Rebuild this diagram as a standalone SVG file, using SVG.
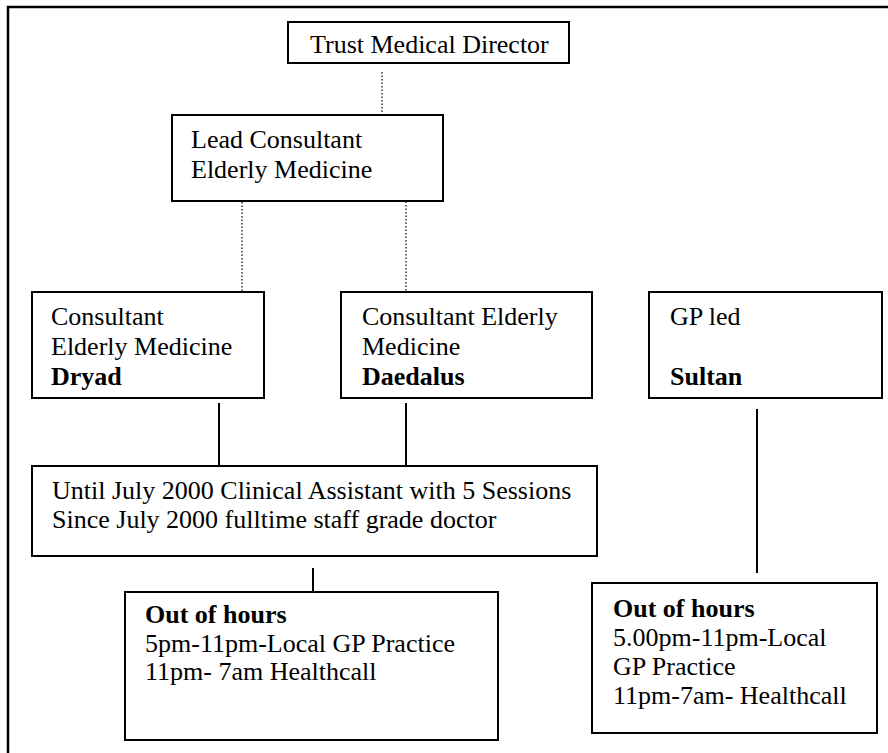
<svg xmlns="http://www.w3.org/2000/svg" width="888" height="753" viewBox="0 0 888 753">
<style>
.box{fill:#fff;stroke:#000;stroke-width:2}
.t{font-family:'Liberation Serif','Times New Roman','DejaVu Serif',serif;font-size:26px;fill:#000}
.b{font-weight:bold}
.solid{stroke:#000;stroke-width:2;fill:none}
.dot{stroke:#000;stroke-width:1.2;stroke-dasharray:1.5 2;fill:none}
</style>
<rect width="888" height="753" fill="#fff"/>
<path d="M8,753 V7 H888" fill="none" stroke="#000" stroke-width="2.5"/>
<g id="connectors">
<line class="dot" x1="382" y1="72" x2="382" y2="114"/>
<line class="dot" x1="242" y1="202" x2="242" y2="291"/>
<line class="dot" x1="406" y1="198" x2="406" y2="291"/>
<line class="solid" x1="219" y1="403" x2="219" y2="473"/>
<line class="solid" x1="406" y1="403" x2="406" y2="473"/>
<line class="solid" x1="757" y1="409" x2="757" y2="573"/>
<line class="solid" x1="313" y1="568" x2="313" y2="592"/>
</g>
<g id="trust">
<rect class="box" x="288" y="22" width="281" height="41"/>
<text class="t" x="310" y="53">Trust Medical Director</text>
</g>
<g id="lead">
<rect class="box" x="172" y="115" width="271" height="86"/>
<text class="t" x="191" y="148">Lead Consultant</text>
<text class="t" x="191" y="178">Elderly Medicine</text>
</g>
<g id="dryad">
<rect class="box" x="32" y="292" width="232" height="106"/>
<text class="t" x="51" y="325">Consultant</text>
<text class="t" x="51" y="355">Elderly Medicine</text>
<text class="t b" x="51" y="385">Dryad</text>
</g>
<g id="daedalus">
<rect class="box" x="341" y="292" width="251" height="106"/>
<text class="t" x="362" y="325">Consultant Elderly</text>
<text class="t" x="362" y="355">Medicine</text>
<text class="t b" x="362" y="385">Daedalus</text>
</g>
<g id="sultan">
<rect class="box" x="649" y="292" width="233" height="106"/>
<text class="t" x="670" y="325">GP led</text>
<text class="t b" x="670" y="385">Sultan</text>
</g>
<g id="assistant">
<rect class="box" x="32" y="466" width="565" height="90"/>
<text class="t" x="52" y="499">Until July 2000 Clinical Assistant with 5 Sessions</text>
<text class="t" x="52" y="528">Since July 2000 fulltime staff grade doctor</text>
</g>
<g id="ooh-left">
<rect class="box" x="125" y="592" width="373" height="148"/>
<text class="t b" x="145" y="623">Out of hours</text>
<text class="t" x="145" y="652">5pm-11pm-Local GP Practice</text>
<text class="t" x="145" y="680">11pm- 7am Healthcall</text>
</g>
<g id="ooh-right">
<rect class="box" x="592" y="583" width="285" height="150"/>
<text class="t b" x="613" y="617">Out of hours</text>
<text class="t" x="613" y="646">5.00pm-11pm-Local</text>
<text class="t" x="613" y="675">GP Practice</text>
<text class="t" x="613" y="704">11pm-7am- Healthcall</text>
</g>
</svg>
